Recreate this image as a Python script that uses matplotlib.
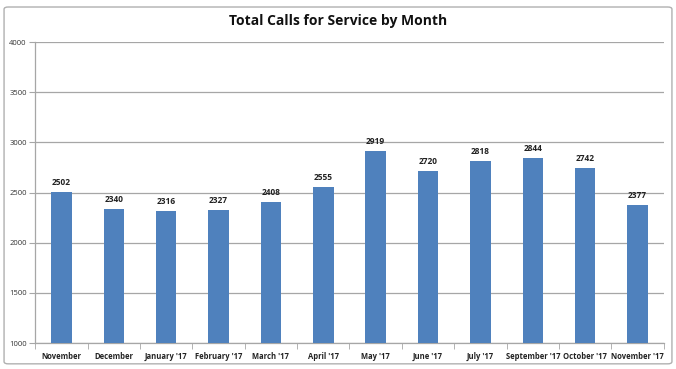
import numpy as np
import matplotlib.pyplot as plt
from matplotlib.patches import FancyBboxPatch

months = ["November", "December", "January '17", "February '17", "March '17", "April '17",
          "May '17", "June '17", "July '17", "September '17", "October '17", "November '17"]
calls = [2502, 2340, 2316, 2327, 2408, 2555, 2919, 2720, 2818, 2844, 2742, 2377]
yticks = [1000, 1500, 2000, 2500, 3000, 3500, 4000]

plt.rcParams['font.family'] = ['Open Sans', 'DejaVu Sans']

fig = plt.figure(figsize=(6.76, 3.69), dpi=100)

# chart frame, kept behind the axes
frame = FancyBboxPatch((0.006, 0.014), 0.988, 0.967, boxstyle="round,pad=0,rounding_size=0.006",
                       transform=fig.transFigure, fc='white', ec='#b0b0b0', lw=1.0, zorder=-5)
fig.patches.append(frame)

ax = fig.add_axes([0.052, 0.070, 0.930, 0.816])
ax.set_zorder(2)
ax.patch.set_alpha(0)
x = np.arange(len(months))
ax.bar(x, calls, width=0.39, color='#4f81bd', zorder=3)
ax.set_ylim(1000, 4000)
ax.set_xlim(-0.5, len(months) - 0.5)
ax.set_yticks(yticks)
ax.set_yticklabels([str(v) for v in yticks], fontsize=5.5, color='#333333')
ax.yaxis.grid(True, color='#a6a6a6', lw=0.9, zorder=0)
ax.set_axisbelow(True)
ax.tick_params(axis='y', length=4, color='#a6a6a6', pad=2)

ax.set_xticks(x)
ax.set_xticklabels(months, fontsize=5.5, fontweight='bold', color='#222222')
ax.set_xticks(np.arange(-0.5, len(months)), minor=True)
ax.tick_params(axis='x', which='major', length=0, pad=6)
ax.tick_params(axis='x', which='minor', length=4, color='#a6a6a6')

for s in ['top', 'right']:
    ax.spines[s].set_visible(False)
for s in ['left', 'bottom']:
    ax.spines[s].set_color('#a6a6a6')
    ax.spines[s].set_linewidth(0.9)

for xi, v in zip(x, calls):
    ax.text(xi, v + 50, str(v), ha='center', va='bottom', fontsize=6,
            fontweight='bold', color='#222222')

fig.text(0.5, 0.943, 'Total Calls for Service by Month', ha='center', va='center',
         fontsize=10, fontweight='bold', color='#111111')

fig.savefig('out.png', dpi=100)
